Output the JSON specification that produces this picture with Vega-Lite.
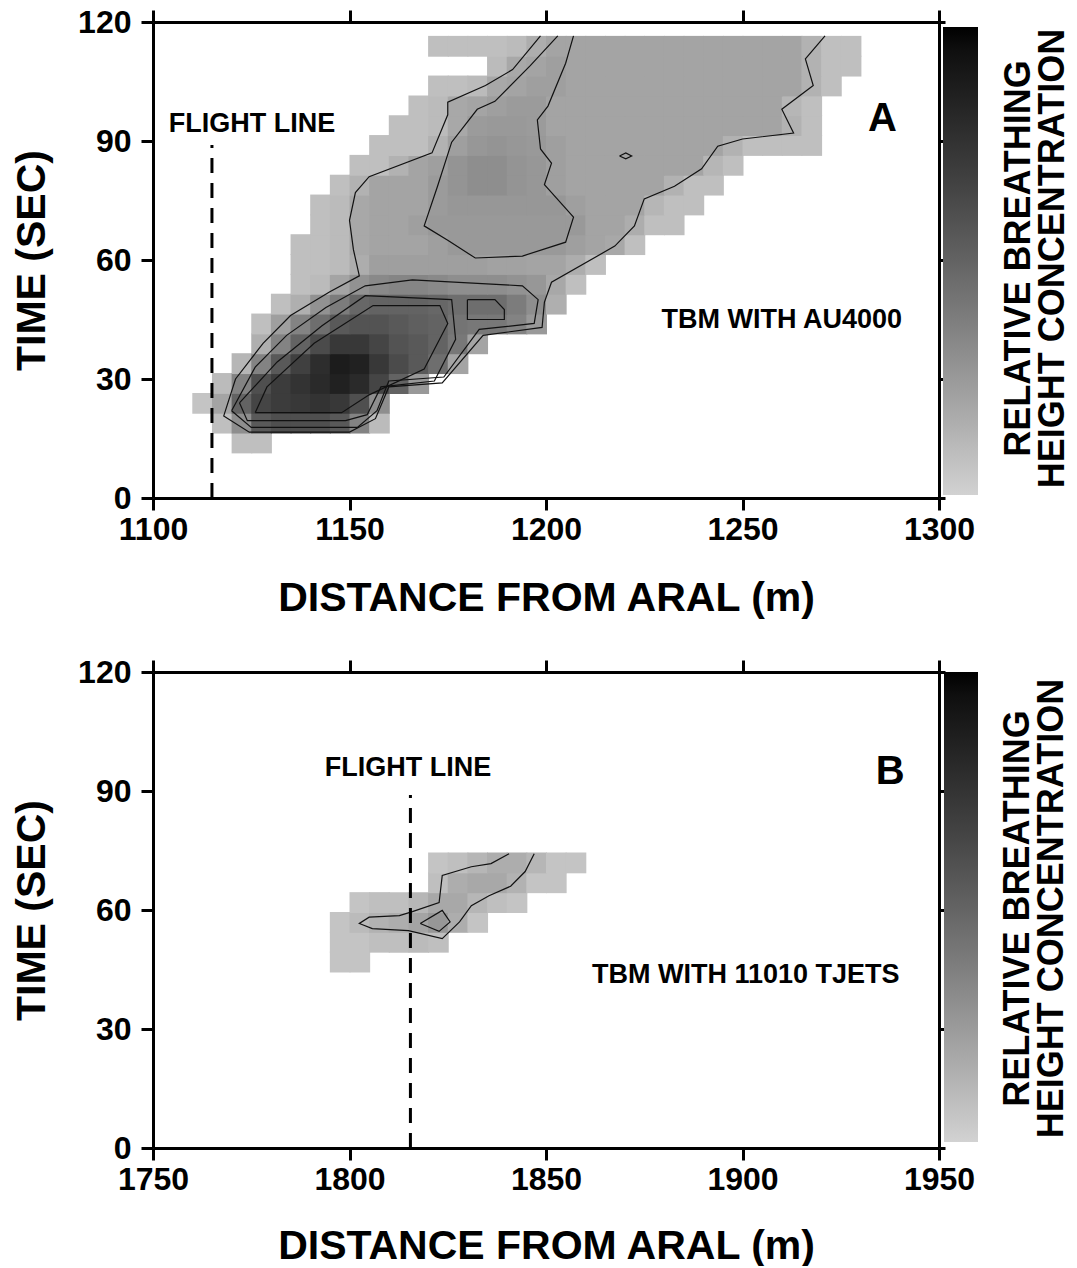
{
  "$schema": "https://vega.github.io/schema/vega-lite/v6.json",
  "padding": {"left": 11, "top": 6, "right": 0, "bottom": 0},
  "spacing": 38,
  "config": {
    "view": {"stroke": null},
    "font": "Liberation Sans",
    "axis": {"domainColor": "#000", "domainWidth": 3, "tickColor": "#000", "tickWidth": 3, "labelColor": "#000", "labelFont": "Liberation Sans", "labelFontWeight": "bold", "labelFontSize": 32, "titleColor": "#000", "titleFont": "Liberation Sans", "titleFontWeight": "bold", "titleFontSize": 41, "grid": false, "labelFlush": false, "labelOverlap": false, "format": "d"}
  },
  "resolve": {"scale": {"x": "independent", "y": "independent", "color": "independent"}, "axis": {"x": "independent", "y": "independent"}, "legend": {"color": "independent"}},
  "datasets": {
    "cellsA": [
      {"d":1120,"t":11.5,"c":8},{"d":1125,"t":11.5,"c":8},
      {"d":1115,"t":16.5,"c":8},{"d":1120,"t":16.5,"c":30},{"d":1125,"t":16.5,"c":55},{"d":1130,"t":16.5,"c":60},{"d":1135,"t":16.5,"c":60},{"d":1140,"t":16.5,"c":60},{"d":1145,"t":16.5,"c":55},{"d":1150,"t":16.5,"c":35},{"d":1155,"t":16.5,"c":10},
      {"d":1110,"t":21.5,"c":6},{"d":1115,"t":21.5,"c":20},{"d":1120,"t":21.5,"c":50},{"d":1125,"t":21.5,"c":65},{"d":1130,"t":21.5,"c":70},{"d":1135,"t":21.5,"c":72},{"d":1140,"t":21.5,"c":75},{"d":1145,"t":21.5,"c":72},{"d":1150,"t":21.5,"c":60},{"d":1155,"t":21.5,"c":30},
      {"d":1115,"t":26.5,"c":10},{"d":1120,"t":26.5,"c":35},{"d":1125,"t":26.5,"c":60},{"d":1130,"t":26.5,"c":70},{"d":1135,"t":26.5,"c":75},{"d":1140,"t":26.5,"c":80},{"d":1145,"t":26.5,"c":85},{"d":1150,"t":26.5,"c":80},{"d":1155,"t":26.5,"c":65},{"d":1160,"t":26.5,"c":50},{"d":1165,"t":26.5,"c":25},
      {"d":1120,"t":31.5,"c":12},{"d":1125,"t":31.5,"c":35},{"d":1130,"t":31.5,"c":55},{"d":1135,"t":31.5,"c":68},{"d":1140,"t":31.5,"c":78},{"d":1145,"t":31.5,"c":88},{"d":1150,"t":31.5,"c":85},{"d":1155,"t":31.5,"c":72},{"d":1160,"t":31.5,"c":62},{"d":1165,"t":31.5,"c":55},{"d":1170,"t":31.5,"c":45},{"d":1175,"t":31.5,"c":20},
      {"d":1125,"t":36.5,"c":15},{"d":1130,"t":36.5,"c":35},{"d":1135,"t":36.5,"c":50},{"d":1140,"t":36.5,"c":62},{"d":1145,"t":36.5,"c":72},{"d":1150,"t":36.5,"c":72},{"d":1155,"t":36.5,"c":65},{"d":1160,"t":36.5,"c":58},{"d":1165,"t":36.5,"c":55},{"d":1170,"t":36.5,"c":50},{"d":1175,"t":36.5,"c":40},{"d":1180,"t":36.5,"c":20},
      {"d":1125,"t":41.5,"c":8},{"d":1130,"t":41.5,"c":22},{"d":1135,"t":41.5,"c":35},{"d":1140,"t":41.5,"c":45},{"d":1145,"t":41.5,"c":55},{"d":1150,"t":41.5,"c":58},{"d":1155,"t":41.5,"c":58},{"d":1160,"t":41.5,"c":55},{"d":1165,"t":41.5,"c":52},{"d":1170,"t":41.5,"c":50},{"d":1175,"t":41.5,"c":42},{"d":1180,"t":41.5,"c":40},{"d":1185,"t":41.5,"c":40},{"d":1190,"t":41.5,"c":35},{"d":1195,"t":41.5,"c":25},
      {"d":1130,"t":46.5,"c":8},{"d":1135,"t":46.5,"c":15},{"d":1140,"t":46.5,"c":28},{"d":1145,"t":46.5,"c":38},{"d":1150,"t":46.5,"c":48},{"d":1155,"t":46.5,"c":50},{"d":1160,"t":46.5,"c":50},{"d":1165,"t":46.5,"c":50},{"d":1170,"t":46.5,"c":48},{"d":1175,"t":46.5,"c":45},{"d":1180,"t":46.5,"c":45},{"d":1185,"t":46.5,"c":45},{"d":1190,"t":46.5,"c":38},{"d":1195,"t":46.5,"c":30},{"d":1200,"t":46.5,"c":15},
      {"d":1135,"t":51.5,"c":8},{"d":1140,"t":51.5,"c":10},{"d":1145,"t":51.5,"c":20},{"d":1150,"t":51.5,"c":28},{"d":1155,"t":51.5,"c":32},{"d":1160,"t":51.5,"c":34},{"d":1165,"t":51.5,"c":34},{"d":1170,"t":51.5,"c":32},{"d":1175,"t":51.5,"c":30},{"d":1180,"t":51.5,"c":30},{"d":1185,"t":51.5,"c":30},{"d":1190,"t":51.5,"c":28},{"d":1195,"t":51.5,"c":26},{"d":1200,"t":51.5,"c":18},{"d":1205,"t":51.5,"c":8},
      {"d":1135,"t":56.5,"c":8},{"d":1140,"t":56.5,"c":8},{"d":1145,"t":56.5,"c":10},{"d":1150,"t":56.5,"c":16},{"d":1155,"t":56.5,"c":22},{"d":1160,"t":56.5,"c":22},{"d":1165,"t":56.5,"c":22},{"d":1170,"t":56.5,"c":22},{"d":1175,"t":56.5,"c":22},{"d":1180,"t":56.5,"c":22},{"d":1185,"t":56.5,"c":21},{"d":1190,"t":56.5,"c":21},{"d":1195,"t":56.5,"c":20},{"d":1200,"t":56.5,"c":20},{"d":1205,"t":56.5,"c":16},{"d":1210,"t":56.5,"c":8},
      {"d":1135,"t":61.5,"c":8},{"d":1140,"t":61.5,"c":8},{"d":1145,"t":61.5,"c":10},{"d":1150,"t":61.5,"c":18},{"d":1155,"t":61.5,"c":20},{"d":1160,"t":61.5,"c":20},{"d":1165,"t":61.5,"c":20},{"d":1170,"t":61.5,"c":22},{"d":1175,"t":61.5,"c":25},{"d":1180,"t":61.5,"c":25},{"d":1185,"t":61.5,"c":25},{"d":1190,"t":61.5,"c":25},{"d":1195,"t":61.5,"c":25},{"d":1200,"t":61.5,"c":25},{"d":1205,"t":61.5,"c":22},{"d":1210,"t":61.5,"c":20},{"d":1215,"t":61.5,"c":18},{"d":1220,"t":61.5,"c":8},
      {"d":1140,"t":66.5,"c":8},{"d":1145,"t":66.5,"c":10},{"d":1150,"t":66.5,"c":18},{"d":1155,"t":66.5,"c":20},{"d":1160,"t":66.5,"c":20},{"d":1165,"t":66.5,"c":22},{"d":1170,"t":66.5,"c":25},{"d":1175,"t":66.5,"c":25},{"d":1180,"t":66.5,"c":25},{"d":1185,"t":66.5,"c":25},{"d":1190,"t":66.5,"c":25},{"d":1195,"t":66.5,"c":25},{"d":1200,"t":66.5,"c":25},{"d":1205,"t":66.5,"c":25},{"d":1210,"t":66.5,"c":20},{"d":1215,"t":66.5,"c":20},{"d":1220,"t":66.5,"c":16},{"d":1225,"t":66.5,"c":8},{"d":1230,"t":66.5,"c":8},
      {"d":1140,"t":71.5,"c":8},{"d":1145,"t":71.5,"c":10},{"d":1150,"t":71.5,"c":18},{"d":1155,"t":71.5,"c":20},{"d":1160,"t":71.5,"c":20},{"d":1165,"t":71.5,"c":20},{"d":1170,"t":71.5,"c":24},{"d":1175,"t":71.5,"c":26},{"d":1180,"t":71.5,"c":26},{"d":1185,"t":71.5,"c":26},{"d":1190,"t":71.5,"c":26},{"d":1195,"t":71.5,"c":26},{"d":1200,"t":71.5,"c":26},{"d":1205,"t":71.5,"c":22},{"d":1210,"t":71.5,"c":20},{"d":1215,"t":71.5,"c":20},{"d":1220,"t":71.5,"c":20},{"d":1225,"t":71.5,"c":12},{"d":1230,"t":71.5,"c":8},{"d":1235,"t":71.5,"c":8},
      {"d":1145,"t":76.5,"c":8},{"d":1150,"t":76.5,"c":14},{"d":1155,"t":76.5,"c":20},{"d":1160,"t":76.5,"c":20},{"d":1165,"t":76.5,"c":20},{"d":1170,"t":76.5,"c":24},{"d":1175,"t":76.5,"c":27},{"d":1180,"t":76.5,"c":30},{"d":1185,"t":76.5,"c":30},{"d":1190,"t":76.5,"c":27},{"d":1195,"t":76.5,"c":26},{"d":1200,"t":76.5,"c":22},{"d":1205,"t":76.5,"c":20},{"d":1210,"t":76.5,"c":20},{"d":1215,"t":76.5,"c":20},{"d":1220,"t":76.5,"c":20},{"d":1225,"t":76.5,"c":20},{"d":1230,"t":76.5,"c":14},{"d":1235,"t":76.5,"c":8},{"d":1240,"t":76.5,"c":8},
      {"d":1150,"t":81.5,"c":8},{"d":1155,"t":81.5,"c":8},{"d":1160,"t":81.5,"c":14},{"d":1165,"t":81.5,"c":20},{"d":1170,"t":81.5,"c":22},{"d":1175,"t":81.5,"c":27},{"d":1180,"t":81.5,"c":30},{"d":1185,"t":81.5,"c":30},{"d":1190,"t":81.5,"c":27},{"d":1195,"t":81.5,"c":26},{"d":1200,"t":81.5,"c":22},{"d":1205,"t":81.5,"c":20},{"d":1210,"t":81.5,"c":20},{"d":1215,"t":81.5,"c":20},{"d":1220,"t":81.5,"c":20},{"d":1225,"t":81.5,"c":20},{"d":1230,"t":81.5,"c":20},{"d":1235,"t":81.5,"c":20},{"d":1240,"t":81.5,"c":12},{"d":1245,"t":81.5,"c":8},
      {"d":1155,"t":86.5,"c":8},{"d":1160,"t":86.5,"c":8},{"d":1165,"t":86.5,"c":8},{"d":1170,"t":86.5,"c":14},{"d":1175,"t":86.5,"c":22},{"d":1180,"t":86.5,"c":26},{"d":1185,"t":86.5,"c":27},{"d":1190,"t":86.5,"c":26},{"d":1195,"t":86.5,"c":25},{"d":1200,"t":86.5,"c":22},{"d":1205,"t":86.5,"c":20},{"d":1210,"t":86.5,"c":20},{"d":1215,"t":86.5,"c":20},{"d":1220,"t":86.5,"c":20},{"d":1225,"t":86.5,"c":20},{"d":1230,"t":86.5,"c":20},{"d":1235,"t":86.5,"c":20},{"d":1240,"t":86.5,"c":20},{"d":1245,"t":86.5,"c":14},{"d":1250,"t":86.5,"c":8},{"d":1255,"t":86.5,"c":8},{"d":1260,"t":86.5,"c":8},{"d":1265,"t":86.5,"c":8},
      {"d":1160,"t":91.5,"c":8},{"d":1165,"t":91.5,"c":8},{"d":1170,"t":91.5,"c":10},{"d":1175,"t":91.5,"c":18},{"d":1180,"t":91.5,"c":24},{"d":1185,"t":91.5,"c":25},{"d":1190,"t":91.5,"c":25},{"d":1195,"t":91.5,"c":24},{"d":1200,"t":91.5,"c":20},{"d":1205,"t":91.5,"c":20},{"d":1210,"t":91.5,"c":20},{"d":1215,"t":91.5,"c":20},{"d":1220,"t":91.5,"c":20},{"d":1225,"t":91.5,"c":20},{"d":1230,"t":91.5,"c":20},{"d":1235,"t":91.5,"c":20},{"d":1240,"t":91.5,"c":20},{"d":1245,"t":91.5,"c":20},{"d":1250,"t":91.5,"c":20},{"d":1255,"t":91.5,"c":20},{"d":1260,"t":91.5,"c":14},{"d":1265,"t":91.5,"c":8},
      {"d":1165,"t":96.5,"c":8},{"d":1170,"t":96.5,"c":10},{"d":1175,"t":96.5,"c":18},{"d":1180,"t":96.5,"c":20},{"d":1185,"t":96.5,"c":22},{"d":1190,"t":96.5,"c":24},{"d":1195,"t":96.5,"c":24},{"d":1200,"t":96.5,"c":20},{"d":1205,"t":96.5,"c":20},{"d":1210,"t":96.5,"c":20},{"d":1215,"t":96.5,"c":20},{"d":1220,"t":96.5,"c":20},{"d":1225,"t":96.5,"c":20},{"d":1230,"t":96.5,"c":20},{"d":1235,"t":96.5,"c":20},{"d":1240,"t":96.5,"c":20},{"d":1245,"t":96.5,"c":20},{"d":1250,"t":96.5,"c":20},{"d":1255,"t":96.5,"c":20},{"d":1260,"t":96.5,"c":12},{"d":1265,"t":96.5,"c":8},
      {"d":1170,"t":101.5,"c":8},{"d":1175,"t":101.5,"c":8},{"d":1180,"t":101.5,"c":10},{"d":1185,"t":101.5,"c":18},{"d":1190,"t":101.5,"c":20},{"d":1195,"t":101.5,"c":22},{"d":1200,"t":101.5,"c":22},{"d":1205,"t":101.5,"c":20},{"d":1210,"t":101.5,"c":20},{"d":1215,"t":101.5,"c":20},{"d":1220,"t":101.5,"c":20},{"d":1225,"t":101.5,"c":20},{"d":1230,"t":101.5,"c":20},{"d":1235,"t":101.5,"c":20},{"d":1240,"t":101.5,"c":20},{"d":1245,"t":101.5,"c":20},{"d":1250,"t":101.5,"c":20},{"d":1255,"t":101.5,"c":20},{"d":1260,"t":101.5,"c":20},{"d":1265,"t":101.5,"c":14},{"d":1270,"t":101.5,"c":8},
      {"d":1185,"t":106.5,"c":10},{"d":1190,"t":106.5,"c":18},{"d":1195,"t":106.5,"c":20},{"d":1200,"t":106.5,"c":22},{"d":1205,"t":106.5,"c":20},{"d":1210,"t":106.5,"c":20},{"d":1215,"t":106.5,"c":20},{"d":1220,"t":106.5,"c":20},{"d":1225,"t":106.5,"c":20},{"d":1230,"t":106.5,"c":20},{"d":1235,"t":106.5,"c":20},{"d":1240,"t":106.5,"c":20},{"d":1245,"t":106.5,"c":20},{"d":1250,"t":106.5,"c":20},{"d":1255,"t":106.5,"c":20},{"d":1260,"t":106.5,"c":20},{"d":1265,"t":106.5,"c":14},{"d":1270,"t":106.5,"c":8},{"d":1275,"t":106.5,"c":8},
      {"d":1170,"t":111.5,"c":8},{"d":1175,"t":111.5,"c":8},{"d":1180,"t":111.5,"c":8},{"d":1185,"t":111.5,"c":8},{"d":1190,"t":111.5,"c":10},{"d":1195,"t":111.5,"c":16},{"d":1200,"t":111.5,"c":20},{"d":1205,"t":111.5,"c":20},{"d":1210,"t":111.5,"c":20},{"d":1215,"t":111.5,"c":20},{"d":1220,"t":111.5,"c":20},{"d":1225,"t":111.5,"c":20},{"d":1230,"t":111.5,"c":20},{"d":1235,"t":111.5,"c":20},{"d":1240,"t":111.5,"c":20},{"d":1245,"t":111.5,"c":20},{"d":1250,"t":111.5,"c":20},{"d":1255,"t":111.5,"c":20},{"d":1260,"t":111.5,"c":20},{"d":1265,"t":111.5,"c":14},{"d":1270,"t":111.5,"c":8},{"d":1275,"t":111.5,"c":8}
    ],
    "cellsB": [
      {"d":1795,"t":44.5,"c":6},{"d":1800,"t":44.5,"c":6},
      {"d":1795,"t":49.5,"c":6},{"d":1800,"t":49.5,"c":6},{"d":1805,"t":49.5,"c":8},{"d":1810,"t":49.5,"c":8},{"d":1815,"t":49.5,"c":10},{"d":1820,"t":49.5,"c":8},
      {"d":1795,"t":54.5,"c":6},{"d":1800,"t":54.5,"c":10},{"d":1805,"t":54.5,"c":14},{"d":1810,"t":54.5,"c":16},{"d":1815,"t":54.5,"c":20},{"d":1820,"t":54.5,"c":26},{"d":1825,"t":54.5,"c":16},{"d":1830,"t":54.5,"c":6},
      {"d":1800,"t":59.5,"c":6},{"d":1805,"t":59.5,"c":8},{"d":1810,"t":59.5,"c":8},{"d":1815,"t":59.5,"c":12},{"d":1820,"t":59.5,"c":18},{"d":1825,"t":59.5,"c":18},{"d":1830,"t":59.5,"c":12},{"d":1835,"t":59.5,"c":8},{"d":1840,"t":59.5,"c":6},
      {"d":1820,"t":64.5,"c":8},{"d":1825,"t":64.5,"c":16},{"d":1830,"t":64.5,"c":18},{"d":1835,"t":64.5,"c":18},{"d":1840,"t":64.5,"c":14},{"d":1845,"t":64.5,"c":6},{"d":1850,"t":64.5,"c":6},
      {"d":1820,"t":69.5,"c":6},{"d":1825,"t":69.5,"c":8},{"d":1830,"t":69.5,"c":12},{"d":1835,"t":69.5,"c":16},{"d":1840,"t":69.5,"c":16},{"d":1845,"t":69.5,"c":12},{"d":1850,"t":69.5,"c":6},{"d":1855,"t":69.5,"c":6}
    ],
    "linesA": [
      {"id":"c1","o":1,"d":1198.6,"t":116.5},{"id":"c1","o":2,"d":1191.5,"t":108},{"id":"c1","o":3,"d":1184.6,"t":104},{"id":"c1","o":4,"d":1175,"t":99.8},{"id":"c1","o":5,"d":1175,"t":96.6},{"id":"c1","o":6,"d":1171,"t":87},{"id":"c1","o":7,"d":1155,"t":81},{"id":"c1","o":8,"d":1151.5,"t":77},{"id":"c1","o":9,"d":1150,"t":70},{"id":"c1","o":10,"d":1151,"t":62.6},{"id":"c1","o":11,"d":1152.5,"t":56},{"id":"c1","o":12,"d":1145,"t":52},{"id":"c1","o":13,"d":1135,"t":46},{"id":"c1","o":14,"d":1128,"t":39},{"id":"c1","o":15,"d":1121,"t":30},{"id":"c1","o":16,"d":1118,"t":20.7},{"id":"c1","o":17,"d":1124.5,"t":16.6},{"id":"c1","o":18,"d":1150,"t":16.6},{"id":"c1","o":19,"d":1156.6,"t":20},{"id":"c1","o":20,"d":1160,"t":28},{"id":"c1","o":21,"d":1173.6,"t":29},{"id":"c1","o":22,"d":1184,"t":41},{"id":"c1","o":23,"d":1199,"t":43},{"id":"c1","o":24,"d":1199.6,"t":49.4},{"id":"c1","o":25,"d":1201.4,"t":54.4},{"id":"c1","o":26,"d":1217.5,"t":63.5},{"id":"c1","o":27,"d":1222.5,"t":68.6},{"id":"c1","o":28,"d":1225,"t":75.4},{"id":"c1","o":29,"d":1232.7,"t":78.6},{"id":"c1","o":30,"d":1239.6,"t":83},{"id":"c1","o":31,"d":1243.7,"t":88.7},{"id":"c1","o":32,"d":1250,"t":90.5},{"id":"c1","o":33,"d":1263,"t":92},{"id":"c1","o":34,"d":1260,"t":98},{"id":"c1","o":35,"d":1268,"t":104},{"id":"c1","o":36,"d":1266,"t":110.7},{"id":"c1","o":37,"d":1271,"t":116.5},
      {"id":"l1","o":1,"d":1120,"t":22},{"id":"l1","o":2,"d":1125,"t":17.8},{"id":"l1","o":3,"d":1152,"t":17.8},{"id":"l1","o":4,"d":1157,"t":22},{"id":"l1","o":5,"d":1160,"t":29.5},{"id":"l1","o":6,"d":1174,"t":30.5},{"id":"l1","o":7,"d":1183,"t":42.5},{"id":"l1","o":8,"d":1197,"t":44},{"id":"l1","o":9,"d":1198,"t":50},{"id":"l1","o":10,"d":1194,"t":53.5},{"id":"l1","o":11,"d":1166,"t":55},{"id":"l1","o":12,"d":1154,"t":53.5},{"id":"l1","o":13,"d":1144,"t":48},{"id":"l1","o":14,"d":1134,"t":41},{"id":"l1","o":15,"d":1126,"t":33},{"id":"l1","o":16,"d":1120,"t":22},
      {"id":"l2","o":1,"d":1122,"t":24},{"id":"l2","o":2,"d":1124,"t":19.5},{"id":"l2","o":3,"d":1149,"t":19.5},{"id":"l2","o":4,"d":1154.5,"t":21},{"id":"l2","o":5,"d":1158,"t":28},{"id":"l2","o":6,"d":1171.6,"t":29.5},{"id":"l2","o":7,"d":1177,"t":40},{"id":"l2","o":8,"d":1176,"t":50},{"id":"l2","o":9,"d":1154,"t":51},{"id":"l2","o":10,"d":1143,"t":43.4},{"id":"l2","o":11,"d":1131.6,"t":34.3},{"id":"l2","o":12,"d":1122,"t":24},
      {"id":"l3","o":1,"d":1126,"t":21.5},{"id":"l3","o":2,"d":1148,"t":21.5},{"id":"l3","o":3,"d":1155,"t":26},{"id":"l3","o":4,"d":1169,"t":32.5},{"id":"l3","o":5,"d":1175,"t":44},{"id":"l3","o":6,"d":1173,"t":48.5},{"id":"l3","o":7,"d":1156,"t":48.5},{"id":"l3","o":8,"d":1141,"t":39},{"id":"l3","o":9,"d":1129,"t":28},{"id":"l3","o":10,"d":1126,"t":21.5},
      {"id":"r","o":1,"d":1180,"t":50},{"id":"r","o":2,"d":1187,"t":50},{"id":"r","o":3,"d":1189.4,"t":47.5},{"id":"r","o":4,"d":1189.4,"t":45},{"id":"r","o":5,"d":1180,"t":45},{"id":"r","o":6,"d":1180,"t":50},
      {"id":"u2","o":1,"d":1203,"t":116.5},{"id":"u2","o":2,"d":1196,"t":109},{"id":"u2","o":3,"d":1187,"t":100},{"id":"u2","o":4,"d":1182.5,"t":98},{"id":"u2","o":5,"d":1176,"t":89.7},{"id":"u2","o":6,"d":1172.4,"t":78.6},{"id":"u2","o":7,"d":1169,"t":68.6},{"id":"u2","o":8,"d":1175,"t":65},{"id":"u2","o":9,"d":1182,"t":60.5},{"id":"u2","o":10,"d":1194,"t":61},{"id":"u2","o":11,"d":1205,"t":64.5},{"id":"u2","o":12,"d":1207,"t":70.8},{"id":"u2","o":13,"d":1199.6,"t":79},{"id":"u2","o":14,"d":1201.4,"t":84.4},{"id":"u2","o":15,"d":1198.6,"t":88},{"id":"u2","o":16,"d":1197.8,"t":95.3},{"id":"u2","o":17,"d":1200.5,"t":98.8},{"id":"u2","o":18,"d":1205,"t":109.6},{"id":"u2","o":19,"d":1207,"t":116.5},
      {"id":"s","o":1,"d":1218.7,"t":86.2},{"id":"s","o":2,"d":1220.3,"t":87},{"id":"s","o":3,"d":1221.8,"t":86.2},{"id":"s","o":4,"d":1220.3,"t":85.5},{"id":"s","o":5,"d":1218.7,"t":86.2}
    ],
    "linesB": [
      {"id":"b1","o":1,"d":1840.6,"t":74.2},{"id":"b1","o":2,"d":1836,"t":71.7},{"id":"b1","o":3,"d":1831,"t":70.9},{"id":"b1","o":4,"d":1823.6,"t":68.7},{"id":"b1","o":5,"d":1822.8,"t":61.9},{"id":"b1","o":6,"d":1816,"t":59.6},{"id":"b1","o":7,"d":1812.7,"t":58.6},{"id":"b1","o":8,"d":1805,"t":58.2},{"id":"b1","o":9,"d":1802.5,"t":56.6},{"id":"b1","o":10,"d":1805.8,"t":55.3},{"id":"b1","o":11,"d":1815,"t":54.8},{"id":"b1","o":12,"d":1823.6,"t":52.8},{"id":"b1","o":13,"d":1828,"t":57},{"id":"b1","o":14,"d":1831,"t":61.1},{"id":"b1","o":15,"d":1835.5,"t":63.6},{"id":"b1","o":16,"d":1841,"t":66},{"id":"b1","o":17,"d":1844.7,"t":69.7},{"id":"b1","o":18,"d":1847,"t":74.2},
      {"id":"b2","o":1,"d":1818,"t":56.6},{"id":"b2","o":2,"d":1823.6,"t":59.9},{"id":"b2","o":3,"d":1825.6,"t":57},{"id":"b2","o":4,"d":1822.8,"t":54.6},{"id":"b2","o":5,"d":1818,"t":56.6}
    ]
  },
  "vconcat": [
    {
      "width": 786,
      "height": 476,
      "resolve": {"axis": {"x": "independent", "y": "independent"}},
      "layer": [
        {
          "data": {"name": "cellsA"},
          "mark": {"type": "rect", "binSpacing": -1},
          "encoding": {
            "x": {"field": "d", "type": "quantitative", "bin": {"binned": true, "step": 5}, "scale": {"domain": [1100, 1300], "nice": false, "zero": false},
              "axis": {"orient": "bottom", "values": [1100, 1150, 1200, 1250, 1300], "tickSize": 12, "labelPadding": 4, "title": "DISTANCE FROM ARAL (m)", "titlePadding": 33}},
            "y": {"field": "t", "type": "quantitative", "bin": {"binned": true, "step": 5}, "scale": {"domain": [0, 120], "nice": false, "zero": false},
              "axis": {"orient": "left", "values": [0, 30, 60, 90, 120], "tickSize": 12, "labelPadding": 10, "title": "TIME (SEC)", "titlePadding": 24}},
            "color": {"field": "c", "type": "quantitative", "scale": {"domain": [0, 100], "range": ["#d2d2d2", "#000000"]},
              "legend": {"type": "gradient", "orient": "none", "legendX": 790, "legendY": 5, "direction": "vertical", "gradientLength": 468, "gradientThickness": 35, "labelOpacity": 0, "title": null, "padding": 0, "gradientStrokeWidth": 0}}
          }
        },
        {
          "data": {"name": "linesA"},
          "mark": {"type": "line", "color": "#111", "strokeWidth": 1.2},
          "encoding": {
            "x": {"field": "d", "type": "quantitative", "axis": null},
            "y": {"field": "t", "type": "quantitative", "axis": null},
            "detail": {"field": "id"},
            "order": {"field": "o", "type": "quantitative"}
          }
        },
        {
          "data": {"values": [{"d": 1115, "t": 0, "t2": 89}]},
          "mark": {"type": "rule", "color": "#000", "strokeWidth": 3, "strokeDash": [15, 10]},
          "encoding": {
            "x": {"field": "d", "type": "quantitative", "axis": {"orient": "top", "values": [1100, 1150, 1200, 1250, 1300], "tickSize": 12, "labels": false, "title": null}},
            "y": {"field": "t", "type": "quantitative", "axis": {"orient": "right", "values": [0, 30, 60, 90, 120], "tickSize": 6, "labels": false, "title": ["RELATIVE BREATHING", "HEIGHT  CONCENTRATION"], "titleAngle": 270, "titleFontSize": 36, "titleX": 79, "titleY": 236, "titleAlign": "center", "titleBaseline": "middle", "titleLineHeight": 34}},
            "y2": {"field": "t2"}
          }
        },
        {
          "data": {"values": [{"d": 1104, "t": 92.3, "label": "FLIGHT LINE"}, {"d": 1229.4, "t": 42.9, "label": "TBM WITH AU4000"}]},
          "mark": {"type": "text", "font": "Liberation Sans", "fontWeight": "bold", "fontSize": 27, "align": "left", "baseline": "alphabetic", "color": "#000"},
          "encoding": {
            "x": {"field": "d", "type": "quantitative", "axis": null},
            "y": {"field": "t", "type": "quantitative", "axis": null},
            "text": {"field": "label"}
          }
        },
        {
          "data": {"values": [{"d": 1285.6, "t": 92.5, "label": "A"}]},
          "mark": {"type": "text", "font": "Liberation Sans", "fontWeight": "bold", "fontSize": 40, "align": "center", "baseline": "alphabetic", "color": "#000"},
          "encoding": {
            "x": {"field": "d", "type": "quantitative", "axis": null},
            "y": {"field": "t", "type": "quantitative", "axis": null},
            "text": {"field": "label"}
          }
        }
      ]
    },
    {
      "width": 786,
      "height": 476,
      "resolve": {"axis": {"x": "independent", "y": "independent"}},
      "layer": [
        {
          "data": {"name": "cellsB"},
          "mark": {"type": "rect", "binSpacing": -1},
          "encoding": {
            "x": {"field": "d", "type": "quantitative", "bin": {"binned": true, "step": 5}, "scale": {"domain": [1750, 1950], "nice": false, "zero": false},
              "axis": {"orient": "bottom", "values": [1750, 1800, 1850, 1900, 1950], "tickSize": 12, "labelPadding": 4, "title": "DISTANCE FROM ARAL (m)", "titlePadding": 31}},
            "y": {"field": "t", "type": "quantitative", "bin": {"binned": true, "step": 5}, "scale": {"domain": [0, 120], "nice": false, "zero": false},
              "axis": {"orient": "left", "values": [0, 30, 60, 90, 120], "tickSize": 12, "labelPadding": 10, "title": "TIME (SEC)", "titlePadding": 24}},
            "color": {"field": "c", "type": "quantitative", "scale": {"domain": [0, 100], "range": ["#d2d2d2", "#000000"]},
              "legend": {"type": "gradient", "orient": "none", "legendX": 791, "legendY": 0, "direction": "vertical", "gradientLength": 470, "gradientThickness": 34, "labelOpacity": 0, "title": null, "padding": 0, "gradientStrokeWidth": 0}}
          }
        },
        {
          "data": {"name": "linesB"},
          "mark": {"type": "line", "color": "#111", "strokeWidth": 1.2},
          "encoding": {
            "x": {"field": "d", "type": "quantitative", "axis": null},
            "y": {"field": "t", "type": "quantitative", "axis": null},
            "detail": {"field": "id"},
            "order": {"field": "o", "type": "quantitative"}
          }
        },
        {
          "data": {"values": [{"d": 1815.5, "t": 0, "t2": 89}]},
          "mark": {"type": "rule", "color": "#000", "strokeWidth": 3, "strokeDash": [15, 10]},
          "encoding": {
            "x": {"field": "d", "type": "quantitative", "axis": {"orient": "top", "values": [1750, 1800, 1850, 1900, 1950], "tickSize": 12, "labels": false, "title": null}},
            "y": {"field": "t", "type": "quantitative", "axis": {"orient": "right", "values": [0, 30, 60, 90, 120], "tickSize": 6, "labels": false, "title": ["RELATIVE BREATHING", "HEIGHT  CONCENTRATION"], "titleAngle": 270, "titleFontSize": 36, "titleX": 78, "titleY": 236, "titleAlign": "center", "titleBaseline": "middle", "titleLineHeight": 34}},
            "y2": {"field": "t2"}
          }
        },
        {
          "data": {"values": [{"d": 1793.7, "t": 93.8, "label": "FLIGHT LINE"}, {"d": 1861.7, "t": 41.5, "label": "TBM WITH 11010 TJETS"}]},
          "mark": {"type": "text", "font": "Liberation Sans", "fontWeight": "bold", "fontSize": 27, "align": "left", "baseline": "alphabetic", "color": "#000"},
          "encoding": {
            "x": {"field": "d", "type": "quantitative", "axis": null},
            "y": {"field": "t", "type": "quantitative", "axis": null},
            "text": {"field": "label"}
          }
        },
        {
          "data": {"values": [{"d": 1937.6, "t": 91.8, "label": "B"}]},
          "mark": {"type": "text", "font": "Liberation Sans", "fontWeight": "bold", "fontSize": 40, "align": "center", "baseline": "alphabetic", "color": "#000"},
          "encoding": {
            "x": {"field": "d", "type": "quantitative", "axis": null},
            "y": {"field": "t", "type": "quantitative", "axis": null},
            "text": {"field": "label"}
          }
        }
      ]
    }
  ]
}
